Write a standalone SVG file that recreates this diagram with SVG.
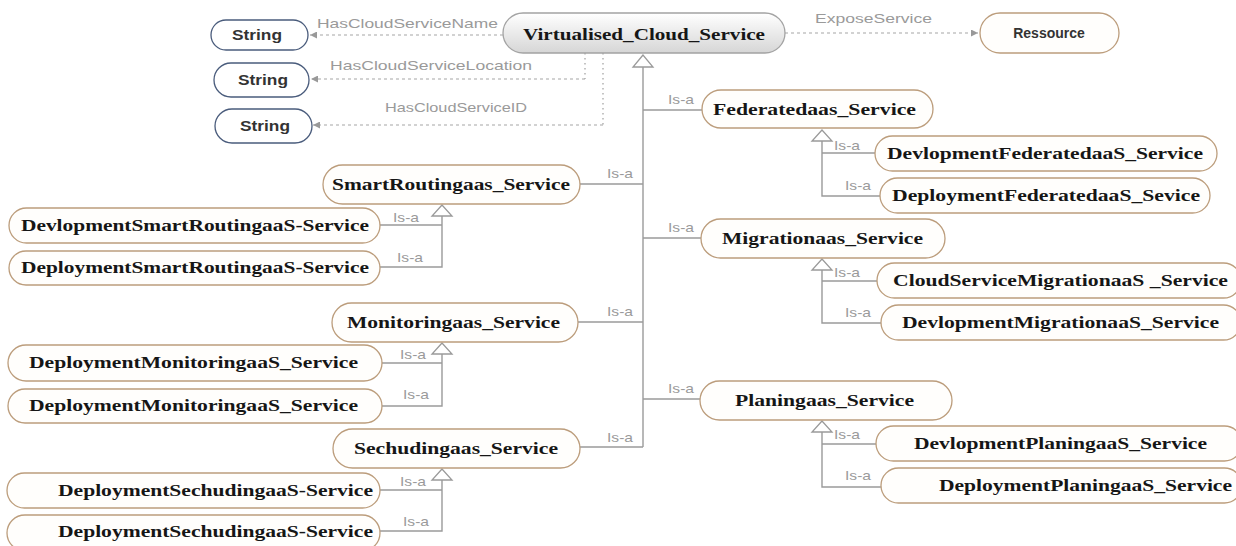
<svg xmlns="http://www.w3.org/2000/svg" width="1236" height="546" viewBox="0 0 1236 546">
<style>
.svc{fill:#fffefc;stroke:#bc9d7c;stroke-width:1.3}
.str{fill:#fff;stroke:#4a5c7c;stroke-width:1.3}
.t{font-family:"Liberation Serif","Times New Roman",serif;font-weight:bold;font-size:17px;fill:#161616}
.ts{font-family:"Liberation Sans",Arial,sans-serif;font-weight:bold;font-size:14px;fill:#333}
.lbl{font-family:"Liberation Sans",Arial,sans-serif;font-size:13px;fill:#9a9a9a}
.isa{fill:none;stroke:#9a9a9a;stroke-width:1.4}
.tri{fill:#fff;stroke:#9a9a9a;stroke-width:1.3}
.dash{fill:none;stroke:#a6a6a6;stroke-width:1.2;stroke-dasharray:3,3}
.dot{fill:none;stroke:#a6a6a6;stroke-width:1.3;stroke-dasharray:1.5,3.5}
</style>
<defs>
<linearGradient id="gv" x1="0" y1="0" x2="0" y2="1">
<stop offset="0" stop-color="#ffffff"/>
<stop offset="1" stop-color="#d6d6d6"/>
</linearGradient>
<marker id="ah" viewBox="0 0 10 10" refX="10" refY="5" markerWidth="9" markerHeight="7" markerUnits="userSpaceOnUse" orient="auto">
<path d="M0,0 L10,5 L0,10 z" fill="#999"/>
</marker>
</defs>

<g id="connectors">
<!-- data properties -->
<path class="dash" d="M503,35 H310" marker-end="url(#ah)"/>
<path class="dot" d="M585,53 V79"/>
<path class="dash" d="M585,79 H311" marker-end="url(#ah)"/>
<path class="dot" d="M603,53 V125"/>
<path class="dash" d="M603,125 H313" marker-end="url(#ah)"/>
<path class="dash" d="M785,33 H978" marker-end="url(#ah)"/>
<text class="lbl" x="317" y="28" textLength="181" lengthAdjust="spacingAndGlyphs">HasCloudServiceName</text>
<text class="lbl" x="330" y="70" textLength="202" lengthAdjust="spacingAndGlyphs">HasCloudServiceLocation</text>
<text class="lbl" x="385" y="112" textLength="142" lengthAdjust="spacingAndGlyphs">HasCloudServiceID</text>
<text class="lbl" x="815" y="23" textLength="117" lengthAdjust="spacingAndGlyphs">ExposeService</text>

<!-- main trunk -->
<path class="isa" d="M643,67 V447"/>
<polygon class="tri" points="643,55 633,67 653,67"/>
<path class="isa" d="M643,110 H702 M643,238 H701 M643,399 H700"/>
<path class="isa" d="M580,184 H643 M578,322 H643 M580,447 H643"/>
<text class="lbl" x="607" y="178" textLength="26" lengthAdjust="spacingAndGlyphs">Is-a</text>
<text class="lbl" x="607" y="316" textLength="26" lengthAdjust="spacingAndGlyphs">Is-a</text>
<text class="lbl" x="607" y="442" textLength="26" lengthAdjust="spacingAndGlyphs">Is-a</text>
<text class="lbl" x="668" y="104" textLength="26" lengthAdjust="spacingAndGlyphs">Is-a</text>
<text class="lbl" x="668" y="232" textLength="26" lengthAdjust="spacingAndGlyphs">Is-a</text>
<text class="lbl" x="668" y="393" textLength="26" lengthAdjust="spacingAndGlyphs">Is-a</text>

<!-- Federatedaas subtree -->
<polygon class="tri" points="822,130 812,141 832,141"/>
<path class="isa" d="M822,141 V196 H880 M822,153 H875"/>
<text class="lbl" x="834" y="150" textLength="26" lengthAdjust="spacingAndGlyphs">Is-a</text>
<text class="lbl" x="845" y="190" textLength="26" lengthAdjust="spacingAndGlyphs">Is-a</text>

<!-- Migrationaas subtree -->
<polygon class="tri" points="822,259 812,270 832,270"/>
<path class="isa" d="M822,270 V323 H881 M822,281 H877"/>
<text class="lbl" x="834" y="277" textLength="26" lengthAdjust="spacingAndGlyphs">Is-a</text>
<text class="lbl" x="845" y="317" textLength="26" lengthAdjust="spacingAndGlyphs">Is-a</text>

<!-- Planingaas subtree -->
<polygon class="tri" points="822,421 812,432 832,432"/>
<path class="isa" d="M822,432 V487 H881 M822,444 H876"/>
<text class="lbl" x="834" y="439" textLength="26" lengthAdjust="spacingAndGlyphs">Is-a</text>
<text class="lbl" x="845" y="480" textLength="26" lengthAdjust="spacingAndGlyphs">Is-a</text>

<!-- SmartRoutingaas subtree -->
<polygon class="tri" points="442,205 432,216 452,216"/>
<path class="isa" d="M442,216 V267 H380 M442,225 H380"/>
<text class="lbl" x="393" y="222" textLength="26" lengthAdjust="spacingAndGlyphs">Is-a</text>
<text class="lbl" x="397" y="262" textLength="26" lengthAdjust="spacingAndGlyphs">Is-a</text>

<!-- Monitoringaas subtree -->
<polygon class="tri" points="442,343 432,354 452,354"/>
<path class="isa" d="M442,354 V406 H382 M442,363 H382"/>
<text class="lbl" x="400" y="359" textLength="26" lengthAdjust="spacingAndGlyphs">Is-a</text>
<text class="lbl" x="403" y="399" textLength="26" lengthAdjust="spacingAndGlyphs">Is-a</text>

<!-- Sechudingaas subtree -->
<polygon class="tri" points="442,469 432,480 452,480"/>
<path class="isa" d="M442,480 V531 H380 M442,490 H380"/>
<text class="lbl" x="400" y="486" textLength="26" lengthAdjust="spacingAndGlyphs">Is-a</text>
<text class="lbl" x="403" y="526" textLength="26" lengthAdjust="spacingAndGlyphs">Is-a</text>
</g>

<g id="string1"><rect class="str" x="211" y="20" width="97" height="30" rx="15"/><text class="ts" x="232" y="40" textLength="50" lengthAdjust="spacingAndGlyphs">String</text></g>
<g id="string2"><rect class="str" x="214" y="63" width="95" height="34" rx="17"/><text class="ts" x="238" y="85" textLength="50" lengthAdjust="spacingAndGlyphs">String</text></g>
<g id="string3"><rect class="str" x="215" y="109" width="97" height="34" rx="17"/><text class="ts" x="240" y="131" textLength="50" lengthAdjust="spacingAndGlyphs">String</text></g>

<g id="virtualised"><rect x="503" y="13" width="282" height="40" rx="20" fill="url(#gv)" stroke="#a3a3a3" stroke-width="1.3"/><text class="t" x="523" y="40" textLength="242" lengthAdjust="spacingAndGlyphs">Virtualised_Cloud_Service</text></g>
<g id="ressource"><rect class="svc" x="980" y="13" width="139" height="40" rx="20"/><text class="ts" x="1049" y="38" text-anchor="middle" fill="#222">Ressource</text></g>

<g id="federatedaas"><rect class="svc" x="702" y="90" width="231" height="38" rx="19"/><text class="t" x="713" y="115" textLength="203" lengthAdjust="spacingAndGlyphs">Federatedaas_Service</text></g>
<g id="devFederated"><rect class="svc" x="875" y="136" width="342" height="35" rx="17.5"/><text class="t" x="887" y="159" textLength="316" lengthAdjust="spacingAndGlyphs">DevlopmentFederatedaaS_Service</text></g>
<g id="depFederated"><rect class="svc" x="880" y="178" width="330" height="35" rx="17.5"/><text class="t" x="892" y="201" textLength="308" lengthAdjust="spacingAndGlyphs">DeploymentFederatedaaS_Sevice</text></g>

<g id="migrationaas"><rect class="svc" x="701" y="219" width="244" height="39" rx="19.5"/><text class="t" x="722" y="244" textLength="201" lengthAdjust="spacingAndGlyphs">Migrationaas_Service</text></g>
<g id="cloudMigration"><rect class="svc" x="877" y="263" width="364" height="35" rx="17.5"/><text class="t" x="893" y="286" textLength="335" lengthAdjust="spacingAndGlyphs">CloudServiceMigrationaaS _Service</text></g>
<g id="devMigration"><rect class="svc" x="881" y="305" width="360" height="35" rx="17.5"/><text class="t" x="902" y="328" textLength="317" lengthAdjust="spacingAndGlyphs">DevlopmentMigrationaaS_Service</text></g>

<g id="planingaas"><rect class="svc" x="700" y="381" width="252" height="39" rx="19.5"/><text class="t" x="735" y="406" textLength="179" lengthAdjust="spacingAndGlyphs">Planingaas_Service</text></g>
<g id="devPlaning"><rect class="svc" x="876" y="426" width="366" height="35" rx="17.5"/><text class="t" x="914" y="449" textLength="293" lengthAdjust="spacingAndGlyphs">DevlopmentPlaningaaS_Service</text></g>
<g id="depPlaning"><rect class="svc" x="881" y="468" width="361" height="35" rx="17.5"/><text class="t" x="939" y="491" textLength="293" lengthAdjust="spacingAndGlyphs">DeploymentPlaningaaS_Service</text></g>

<g id="smartRouting"><rect class="svc" x="323" y="165" width="257" height="39" rx="19.5"/><text class="t" x="332" y="190" textLength="238" lengthAdjust="spacingAndGlyphs">SmartRoutingaas_Service</text></g>
<g id="devSmartRouting"><rect class="svc" x="9" y="208" width="371" height="35" rx="17.5"/><text class="t" x="21" y="231" textLength="348" lengthAdjust="spacingAndGlyphs">DevlopmentSmartRoutingaaS-Service</text></g>
<g id="depSmartRouting"><rect class="svc" x="9" y="251" width="371" height="34" rx="17"/><text class="t" x="21" y="273" textLength="348" lengthAdjust="spacingAndGlyphs">DeploymentSmartRoutingaaS-Service</text></g>

<g id="monitoring"><rect class="svc" x="332" y="303" width="246" height="39" rx="19.5"/><text class="t" x="347" y="328" textLength="213" lengthAdjust="spacingAndGlyphs">Monitoringaas_Service</text></g>
<g id="depMonitoring1"><rect class="svc" x="8" y="345" width="374" height="36" rx="18"/><text class="t" x="29" y="368" textLength="329" lengthAdjust="spacingAndGlyphs">DeploymentMonitoringaaS_Service</text></g>
<g id="depMonitoring2"><rect class="svc" x="8" y="389" width="374" height="34" rx="17"/><text class="t" x="29" y="411" textLength="329" lengthAdjust="spacingAndGlyphs">DeploymentMonitoringaaS_Service</text></g>

<g id="sechuding"><rect class="svc" x="333" y="429" width="247" height="39" rx="19.5"/><text class="t" x="354" y="454" textLength="204" lengthAdjust="spacingAndGlyphs">Sechudingaas_Service</text></g>
<g id="depSechuding1"><rect class="svc" x="7" y="473" width="373" height="35" rx="17.5"/><text class="t" x="58" y="496" textLength="315" lengthAdjust="spacingAndGlyphs">DeploymentSechudingaaS-Service</text></g>
<g id="depSechuding2"><rect class="svc" x="7" y="515" width="373" height="36" rx="18"/><text class="t" x="58" y="537" textLength="315" lengthAdjust="spacingAndGlyphs">DeploymentSechudingaaS-Service</text></g>
</svg>
